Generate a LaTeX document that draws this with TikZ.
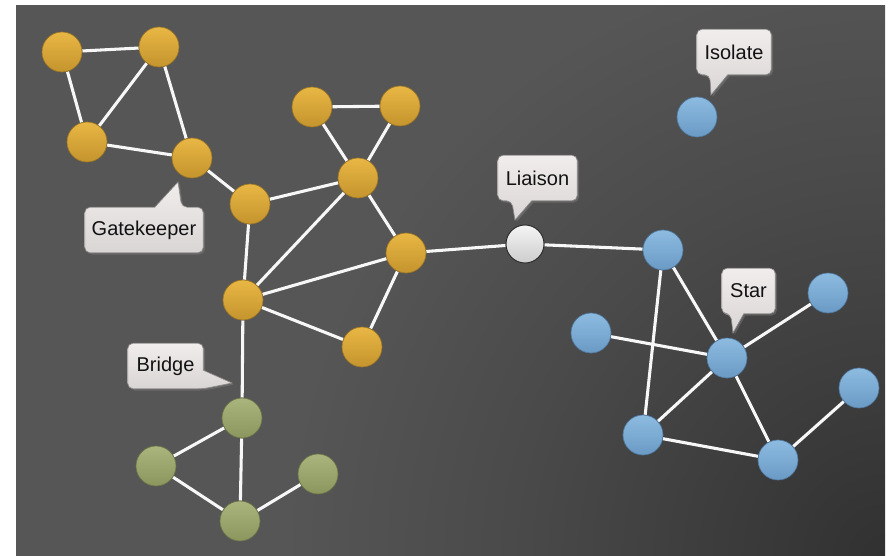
\documentclass[tikz,border=0pt]{standalone}
\usepackage{fontspec}
\setmainfont{Liberation Sans}
\usetikzlibrary{calc,shadows}

% colours
\definecolor{bglight}{HTML}{565656}
\definecolor{bgmid}{HTML}{4A4A4A}
\definecolor{bgdark}{HTML}{313131}
\definecolor{goldtop}{HTML}{E9B744}
\definecolor{goldbot}{HTML}{C4942E}
\definecolor{goldedge}{HTML}{9C7526}
\definecolor{bluetop}{HTML}{8DBBE0}
\definecolor{bluebot}{HTML}{6A9AC5}
\definecolor{blueedge}{HTML}{50789E}
\definecolor{greentop}{HTML}{A9B57D}
\definecolor{greenbot}{HTML}{8A965E}
\definecolor{greenedge}{HTML}{6B7548}
\definecolor{liaisontop}{HTML}{F4F4F4}
\definecolor{liaisonbot}{HTML}{CDCDCD}
\definecolor{liaisonedge}{HTML}{2A2A2A}
\definecolor{tagtop}{HTML}{F1EDED}
\definecolor{tagbot}{HTML}{DAD5D5}
\definecolor{tagedge}{HTML}{8E8A8A}
\definecolor{tagtext}{HTML}{121212}
\definecolor{linkwhite}{HTML}{F7F7F7}

% darkening towards the lower right corner, drawn at its natural size
\pgfdeclareradialshading{vignette}{\pgfpoint{0bp}{0bp}}{%
  color(0bp)=(bgdark); color(280bp)=(bgmid); color(450bp)=(bglight); color(800bp)=(bglight)}

\pgfdeclarelayer{canvas}
\pgfdeclarelayer{links}
\pgfdeclarelayer{tags}
\pgfsetlayers{canvas,links,tags,main}

\tikzset{
  vert/.style={circle, minimum size=30pt, inner sep=0pt, line width=0.5pt},
  goldv/.style={vert, draw=goldedge, top color=goldtop, bottom color=goldbot},
  bluev/.style={vert, draw=blueedge, top color=bluetop, bottom color=bluebot},
  greenv/.style={vert, draw=greenedge, top color=greentop, bottom color=greenbot},
  liaisonv/.style={vert, minimum size=28.5pt, draw=liaisonedge, line width=0.7pt,
    top color=liaisontop, bottom color=liaisonbot},
  link/.style={draw=linkwhite, line width=2.3pt},
  tagbox/.style={rectangle, inner sep=0pt, minimum height=33.75pt, text=tagtext,
    font=\fontsize{15pt}{18pt}\selectfont},
  tagshape/.style={draw=tagedge, line width=0.5pt, top color=tagtop, bottom color=tagbot,
    drop shadow={shadow xshift=1.3pt, shadow yshift=-1.3pt, opacity=0.45}},
}

\begin{document}
\begin{tikzpicture}[x=0.75pt, y=-0.75pt]
  \useasboundingbox (0,0) rectangle (892,556);

  % backdrop
  \begin{pgfonlayer}{canvas}
    \fill[white] (0,0) rectangle (892,556);
    \begin{scope}
      \clip (16,6) rectangle (885,556);
      \fill[bglight] (16,6) rectangle (885,556);
      \node[inner sep=0pt, outer sep=0pt] (glow) at (885,556) {\pgfuseshading{vignette}};
    \end{scope}
  \end{pgfonlayer}

  % gold cluster
  \node[goldv] (ga)   at (62,52)   {};
  \node[goldv] (gb)   at (159,47)  {};
  \node[goldv] (gc)   at (87,142)  {};
  \node[goldv] (gate) at (192,158) {};
  \node[goldv] (ge)   at (250,204) {};
  \node[goldv] (gf)   at (312,107) {};
  \node[goldv] (gg)   at (400,106) {};
  \node[goldv] (gh)   at (358,178) {};
  \node[goldv] (gi)   at (406,253) {};
  \node[goldv] (gj)   at (243,300) {};
  \node[goldv] (gk)   at (362,347) {};

  % liaison
  \node[liaisonv] (liaison) at (525,244) {};

  % blue cluster
  \node[bluev] (ba)   at (663,250) {};
  \node[bluev] (bb)   at (591,333) {};
  \node[bluev] (star) at (727,358) {};
  \node[bluev] (bd)   at (828,293) {};
  \node[bluev] (be)   at (859,388) {};
  \node[bluev] (bf)   at (643,435) {};
  \node[bluev] (bg)   at (778,460) {};
  \node[bluev] (iso)  at (697,117) {};

  % green cluster
  \node[greenv] (na) at (242,418) {};
  \node[greenv] (nb) at (156,466) {};
  \node[greenv] (nc) at (240,521) {};
  \node[greenv] (nd) at (318,474) {};

  % connections
  \begin{pgfonlayer}{links}
    \draw[link] (ga) -- (gb);
    \draw[link] (ga) -- (gc);
    \draw[link] (gb) -- (gc);
    \draw[link] (gb) -- (gate);
    \draw[link] (gc) -- (gate);
    \draw[link] (gate) -- (ge);
    \draw[link] (ge) -- (gh);
    \draw[link] (ge) -- (gj);
    \draw[link] (gf) -- (gg);
    \draw[link] (gf) -- (gh);
    \draw[link] (gg) -- (gh);
    \draw[link] (gh) -- (gi);
    \draw[link] (gh) -- (gj);
    \draw[link] (gj) -- (gi);
    \draw[link] (gi) -- (gk);
    \draw[link] (gj) -- (gk);
    \draw[link] (gi) -- (liaison);
    \draw[link] (liaison) -- (ba);
    \draw[link] (ba) -- (star);
    \draw[link] (ba) -- (bf);
    \draw[link] (bb) -- (star);
    \draw[link] (star) -- (bd);
    \draw[link] (star) -- (bf);
    \draw[link] (star) -- (bg);
    \draw[link] (bf) -- (bg);
    \draw[link] (bg) -- (be);
    \draw[link] (gj) -- (na);
    \draw[link] (na) -- (nb);
    \draw[link] (na) -- (nc);
    \draw[link] (nb) -- (nc);
    \draw[link] (nc) -- (nd);
  \end{pgfonlayer}

  % labels
  \node[tagbox, minimum width=55.5pt]  (isolateTag)    at (734,52)    {Isolate};
  \node[tagbox, minimum width=88.5pt]  (gatekeeperTag) at (144,230)   {Gatekeeper};
  \node[tagbox, minimum width=56.25pt] (bridgeTag)     at (165.5,366) {Bridge};
  \node[tagbox, minimum width=59.25pt] (liaisonTag)    at (537.5,178) {Liaison};
  \node[tagbox, minimum width=39.75pt] (starTag)       at (748.5,291) {Star};

  \coordinate (isolateTip)    at (711,95);
  \coordinate (gatekeeperTip) at (178,182);
  \coordinate (bridgeTip)     at (232,383);
  \coordinate (liaisonTip)    at (515,220);
  \coordinate (starTip)       at (733,333);

  % speech-bubble outlines behind the label text
  \begin{pgfonlayer}{tags}
    \path[tagshape] (isolateTip) -- ($(isolateTag.south west)+(31,0)$) [rounded corners=4pt]
      -- (isolateTag.south east) -- (isolateTag.north east) -- (isolateTag.north west)
      -- (isolateTag.south west) -- ($(isolateTag.south west)+(13,0)$) [sharp corners] -- cycle;
    \path[tagshape] (gatekeeperTip) -- ($(gatekeeperTag.north west)+(70,0)$) [rounded corners=4pt]
      -- (gatekeeperTag.north west) -- (gatekeeperTag.south west) -- (gatekeeperTag.south east)
      -- (gatekeeperTag.north east) -- ($(gatekeeperTag.north west)+(97,0)$) [sharp corners] -- cycle;
    \path[tagshape] (bridgeTip) -- ($(bridgeTag.north east)+(0,27)$) [rounded corners=4pt]
      -- (bridgeTag.north east) -- (bridgeTag.north west) -- (bridgeTag.south west)
      -- (bridgeTag.south east) [sharp corners] -- cycle;
    \path[tagshape] (liaisonTip) -- ($(liaisonTag.south west)+(34,0)$) [rounded corners=4pt]
      -- (liaisonTag.south east) -- (liaisonTag.north east) -- (liaisonTag.north west)
      -- (liaisonTag.south west) -- ($(liaisonTag.south west)+(14,0)$) [sharp corners] -- cycle;
    \path[tagshape] (starTip) -- ($(starTag.south west)+(22,0)$) [rounded corners=4pt]
      -- (starTag.south east) -- (starTag.north east) -- (starTag.north west)
      -- (starTag.south west) -- ($(starTag.south west)+(9,0)$) [sharp corners] -- cycle;
  \end{pgfonlayer}
\end{tikzpicture}
\end{document}
